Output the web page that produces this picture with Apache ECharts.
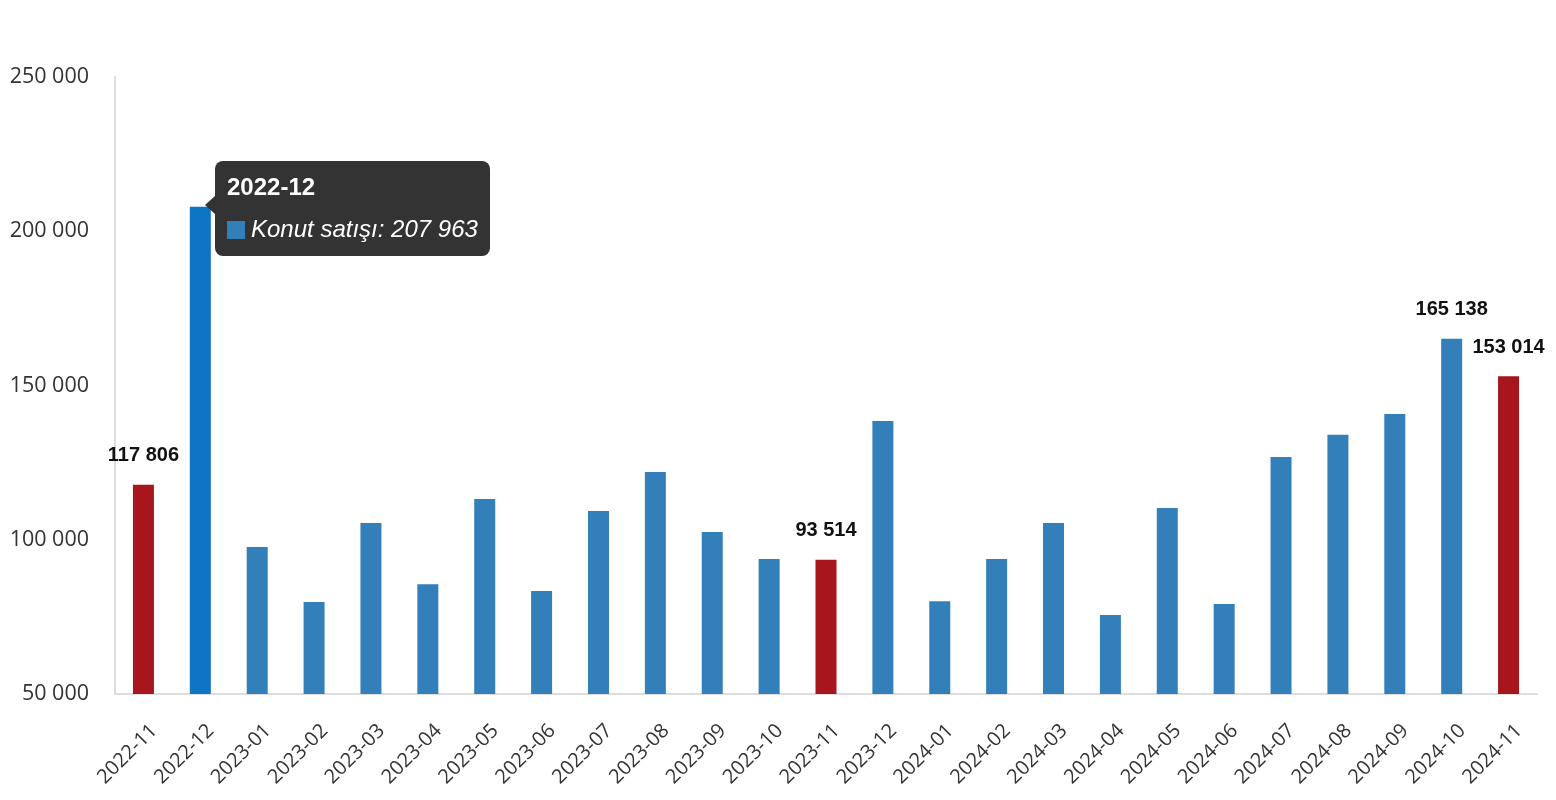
<!DOCTYPE html>
<html>
<head>
<meta charset="utf-8">
<script src="https://cdn.jsdelivr.net/npm/echarts@6/dist/echarts.min.js"></script>
<style>
html,body{margin:0;padding:0;background:#fff;}
#chart{width:1556px;height:800px;}
</style>
</head>
<body>
<div id="chart"></div>
<script>
var categories = ['2022-11','2022-12','2023-01','2023-02','2023-03','2023-04','2023-05','2023-06','2023-07','2023-08','2023-09','2023-10','2023-11','2023-12','2024-01','2024-02','2024-03','2024-04','2024-05','2024-06','2024-07','2024-08','2024-09','2024-10','2024-11'];
var sales = [117806,207963,97650,79800,105400,85600,113200,83400,109300,122000,102500,93750,93514,138500,80100,93750,105400,75600,110300,79200,126800,134000,140800,165138,153014];
var redIndices = [0,12,24];
var labelIndices = [0,12,23,24];
var highlightIndex = 1;
var seriesName = 'Konut satışı';
var yTicks = {min:50000, max:250000, interval:50000};

function fmt(v){ return String(v).replace(/\B(?=(\d{3})+(?!\d))/g,' '); }

var BLUE = '#337fba', RED = '#a8161d', HIGH = '#0e75c4';

var data = sales.map(function(v,i){
  var color = redIndices.indexOf(i) >= 0 ? RED : (i === highlightIndex ? HIGH : BLUE);
  return {
    value: v,
    itemStyle: {color: color},
    label: {show: labelIndices.indexOf(i) >= 0}
  };
});

var chart = echarts.init(document.getElementById('chart'), null, {renderer:'canvas'});
var option = {
  animation: false,
  grid: {left:115, right:19, top:77, bottom:106},
  tooltip: {
    trigger: 'item',
    triggerOn: 'none',
    alwaysShowContent: true,
    transitionDuration: 0,
    backgroundColor: '#333333',
    borderColor: '#333333',
    borderWidth: 0,
    borderRadius: 8,
    padding: [11, 12, 12, 12],
    extraCssText: 'box-shadow:none;overflow:visible;',
    position: function(point, params, dom, rect, size){
      var p = chart.convertToPixel({seriesIndex:0}, [params.dataIndex, params.value]);
      return [p[0] + 15, Math.round(p[1] - size.contentSize[1]/2) + 2];
    },
    formatter: function(p){
      var arrow = '<div style="position:absolute;left:-22px;top:50%;margin-top:-12px;width:0;height:0;border-top:9px solid transparent;border-bottom:9px solid transparent;border-right:10px solid #333;"></div>';
      return '<div style="position:relative;font-family:\'Liberation Sans\',Arial,sans-serif;color:#fff;">' + arrow +
        '<div style="font-weight:bold;font-size:24px;line-height:30px;">' + p.name + '</div>' +
        '<div style="font-style:italic;font-size:24px;line-height:30px;margin-top:12px;white-space:nowrap;">' +
        '<span style="display:inline-block;width:18px;height:18px;background:' + BLUE + ';margin-right:6px;vertical-align:-2px;"></span>' +
        seriesName + ': ' + fmt(p.value) + '</div></div>';
    }
  },
  xAxis: {
    type: 'category',
    data: categories,
    axisLine: {show:true, lineStyle:{color:'#dddddd', width:2}},
    axisTick: {show:false},
    axisLabel: {
      rotate: 45, interval: 0, margin: 23,
      verticalAlign: 'top', lineHeight: 30,
      fontFamily: 'Open Sans', fontSize: 20, color: '#333'
    }
  },
  yAxis: {
    type: 'value',
    min: yTicks.min, max: yTicks.max, interval: yTicks.interval,
    axisLine: {show:true, lineStyle:{color:'#dddddd', width:2}},
    axisTick: {show:false},
    splitLine: {show:false},
    axisLabel: {
      fontFamily: 'Open Sans', fontSize: 21.5, color: '#333', margin: 26,
      formatter: function(v){ return fmt(v); }
    }
  },
  series: [{
    name: seriesName,
    type: 'bar',
    barWidth: 21,
    data: data,
    label: {
      position: 'top', distance: 19,
      fontFamily: 'Liberation Sans', fontWeight: 'bold', fontSize: 20, color: '#111',
      formatter: function(p){ return fmt(p.value); }
    }
  }]
};
chart.setOption(option);
setTimeout(function(){
  chart.dispatchAction({type:'showTip', seriesIndex:0, dataIndex:highlightIndex});
}, 50);
</script>
</body>
</html>
